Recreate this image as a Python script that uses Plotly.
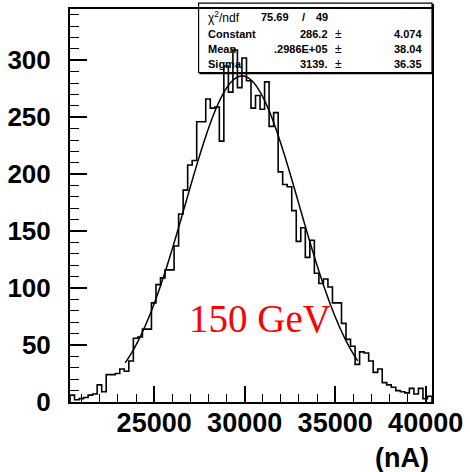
import numpy as np
import plotly.graph_objects as go

# ---------------- data ----------------
bin_low = 20350
bin_width = 250
counts = [6, 2, 3, 4, 6, 7, 15, 9, 24, 24,
          25, 29, 27, 36, 56, 57, 64, 64, 87, 103,
          109, 116, 116, 137, 165, 186, 208, 212, 246, 246,
          266, 258, 259, 229, 295, 272, 309, 276, 302, 282,
          258, 269, 257, 281, 242, 254, 202, 191, 189, 168,
          141, 153, 127, 142, 113, 104, 108, 101, 87, 87,
          69, 55, 49, 33, 44, 43, 36, 26, 29, 17,
          15, 13, 10, 9, 8, 12, 7, 12, 3, 5]

fit_constant = 286.2
fit_mean = 29860.0
fit_sigma = 3139.0
fit_range = [23400, 36250]

x_tick_vals = [25000, 30000, 35000, 40000]
x_tick_text = ["25000", "30000", "35000", "40000"]

stats_labels = ["Constant", "Mean", "Sigma"]
stats_values = ["286.2", ".2986E+05", "3139."]
stats_errors = ["4.074", "38.04", "36.35"]
chi2_text = "75.69"
ndf_text = "49"

# ---------------- build ----------------
edges = bin_low + bin_width * np.arange(len(counts) + 1)
xs = [edges[0]]
ys = [0]
for i, c in enumerate(counts):
    xs += [edges[i], edges[i + 1]]
    ys += [c, c]
xs.append(edges[-1])
ys.append(0)

xf = np.linspace(fit_range[0], fit_range[1], 400)
yf = fit_constant * np.exp(-0.5 * ((xf - fit_mean) / fit_sigma) ** 2)

fig = go.Figure()
fig.add_trace(go.Scatter(x=xs, y=ys, mode="lines",
                         line=dict(color="black", width=1.6),
                         hoverinfo="skip", showlegend=False))
fig.add_trace(go.Scatter(x=xf, y=yf, mode="lines",
                         line=dict(color="black", width=1.5, shape="spline"),
                         hoverinfo="skip", showlegend=False))

# plot-area pixel geometry
L, R, T, B = 69, 435, 7, 402
W, H = R - L, B - T


def px(xp):
    return (xp - L) / W


def py(yp):
    return (B - yp) / H


bold = dict(family="Liberation Sans, Arial, sans-serif", color="black", weight="bold")

fig.update_layout(
    width=470, height=472,
    margin=dict(l=L, r=470 - R, t=T, b=472 - B),
    paper_bgcolor="white", plot_bgcolor="white",
    xaxis=dict(range=[edges[0], edges[-1]], showline=True, mirror=True,
               linecolor="black", linewidth=2, showgrid=False, zeroline=False,
               ticks="inside", ticklen=16, tickwidth=1.5, tickcolor="black",
               tickvals=x_tick_vals, ticktext=x_tick_text,
               minor=dict(dtick=1000, tick0=0, ticks="inside", ticklen=8,
                          tickwidth=1.3, tickcolor="black", showgrid=False),
               tickfont=dict(size=27, **bold), ticklabelstandoff=-4),
    yaxis=dict(range=[0, 345], showline=True, mirror=True,
               linecolor="black", linewidth=2, showgrid=False, zeroline=False,
               ticks="inside", ticklen=17, tickwidth=1.5, tickcolor="black",
               tick0=0, dtick=50,
               minor=dict(dtick=10, tick0=0, ticks="inside", ticklen=9,
                          tickwidth=1.3, tickcolor="black", showgrid=False),
               tickfont=dict(size=26, **bold), ticklabelstandoff=12),
)

ann = []
ann.append(dict(text="(nA)", x=px(434), y=py(458), xref="paper", yref="paper",
                xanchor="right", yanchor="middle", showarrow=False,
                font=dict(size=27, **bold)))
ann.append(dict(text="150 GeV", x=px(261), y=py(318), xref="paper", yref="paper",
                xanchor="center", yanchor="middle", showarrow=False,
                font=dict(family="Liberation Serif, Times New Roman, serif",
                          size=39, color="red")))

# stats box
rows_y = [15, 32, 47, 62]
sf = dict(size=11, **bold)
ann.append(dict(text="χ<sup>2</sup>/ndf", x=px(206), y=py(rows_y[0]), xref="paper", yref="paper",
                xanchor="left", yanchor="middle", showarrow=False,
                font=dict(size=12, family="Liberation Sans, Arial, sans-serif", color="black")))
ann.append(dict(text=chi2_text, x=px(292), y=py(rows_y[0]), xref="paper", yref="paper",
                xanchor="right", yanchor="middle", showarrow=False, font=sf))
ann.append(dict(text="/", x=px(305), y=py(rows_y[0]), xref="paper", yref="paper",
                xanchor="center", yanchor="middle", showarrow=False, font=sf))
ann.append(dict(text=ndf_text, x=px(332), y=py(rows_y[0]), xref="paper", yref="paper",
                xanchor="right", yanchor="middle", showarrow=False, font=sf))
for i in range(3):
    yy = py(rows_y[i + 1])
    ann.append(dict(text=stats_labels[i], x=px(206), y=yy, xref="paper", yref="paper",
                    xanchor="left", yanchor="middle", showarrow=False, font=sf))
    ann.append(dict(text=stats_values[i], x=px(332), y=yy, xref="paper", yref="paper",
                    xanchor="right", yanchor="middle", showarrow=False, font=sf))
    ann.append(dict(text="±", x=px(340), y=yy, xref="paper", yref="paper",
                    xanchor="center", yanchor="middle", showarrow=False,
                    font=dict(size=12, family="Liberation Sans, Arial, sans-serif", color="black")))
    ann.append(dict(text=stats_errors[i], x=px(427), y=yy, xref="paper", yref="paper",
                    xanchor="right", yanchor="middle", showarrow=False, font=sf))
fig.update_layout(annotations=ann)

shapes = [
    dict(type="rect", xref="paper", yref="paper", x0=px(199), x1=px(435),
         y0=py(71), y1=py(1), line=dict(color="black", width=1.2), fillcolor="rgba(0,0,0,0)"),
    dict(type="line", xref="paper", yref="paper", x0=px(200), x1=px(436.5),
         y0=py(71.5), y1=py(71.5), line=dict(color="black", width=2)),
    dict(type="line", xref="paper", yref="paper", x0=px(436), x1=px(436),
         y0=py(2), y1=py(72), line=dict(color="black", width=2)),
]
fig.update_layout(shapes=shapes)

fig.write_html("out.html")
